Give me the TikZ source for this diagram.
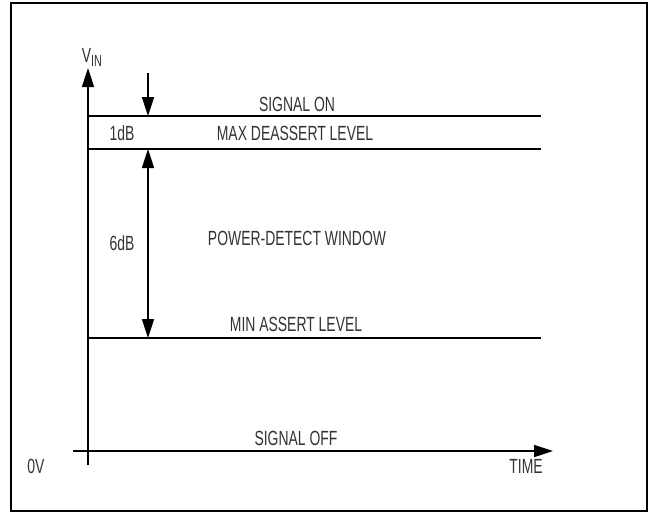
\documentclass[tikz,border=0pt]{standalone}
\usepackage{fontspec}
\newfontfamily\narrowsf{Liberation Sans}[FakeStretch=0.68]
\usetikzlibrary{arrows.meta}

\begin{document}
\begin{tikzpicture}[x=1pt, y=-1pt, line width=1.6pt,
  every node/.style={font=\narrowsf\fontsize{20.5}{22}\selectfont, text=black!80, inner sep=0pt},
  tip/.style={-{Triangle[length=19pt,width=12pt]}},
  tips/.style={{Triangle[length=19pt,width=12pt]}-{Triangle[length=19pt,width=12pt]}}]
  \useasboundingbox (0,0) rectangle (652,515);
  \draw[line width=2.6pt] (11,3) rectangle (647,511);

  % axes
  \coordinate (vbot) at (88,465);
  \coordinate (vtop) at (88,68);
  \coordinate (hleft) at (73,451);
  \coordinate (hright) at (553,451);
  \draw[tip] (vbot) -- (vtop);
  \draw[tip] (hleft) -- (hright);

  % levels
  \coordinate (on0) at (88,116);  \coordinate (on1) at (541,116);
  \coordinate (max0) at (88,149); \coordinate (max1) at (541,149);
  \coordinate (min0) at (88,338); \coordinate (min1) at (541,338);
  \draw (on0) -- (on1);
  \draw (max0) -- (max1);
  \draw (min0) -- (min1);

  % dB markers
  \coordinate (ontop) at (148,73);
  \coordinate (onhit) at (148,116);
  \coordinate (wintop) at (148,149);
  \coordinate (winbot) at (148,338);
  \draw[tip] (ontop) -- (onhit);
  \draw[tips] (wintop) -- (winbot);

  \node (vin) at (92,57) {V\raisebox{-4pt}{\fontsize{16}{17}\selectfont IN}};
  \node (onlbl) at (297,104) {SIGNAL ON};
  \node (maxlbl) at (295,133) {MAX DEASSERT LEVEL};
  \node (db1) at (122,133) {1dB};
  \node (db6) at (122,243) {6dB};
  \node (winlbl) at (297,238) {POWER-DETECT WINDOW};
  \node (minlbl) at (296,324) {MIN ASSERT LEVEL};
  \node (offlbl) at (296,438) {SIGNAL OFF};
  \node (zero) at (36,466) {0V};
  \node (time) at (526,466) {TIME};
\end{tikzpicture}
\end{document}
